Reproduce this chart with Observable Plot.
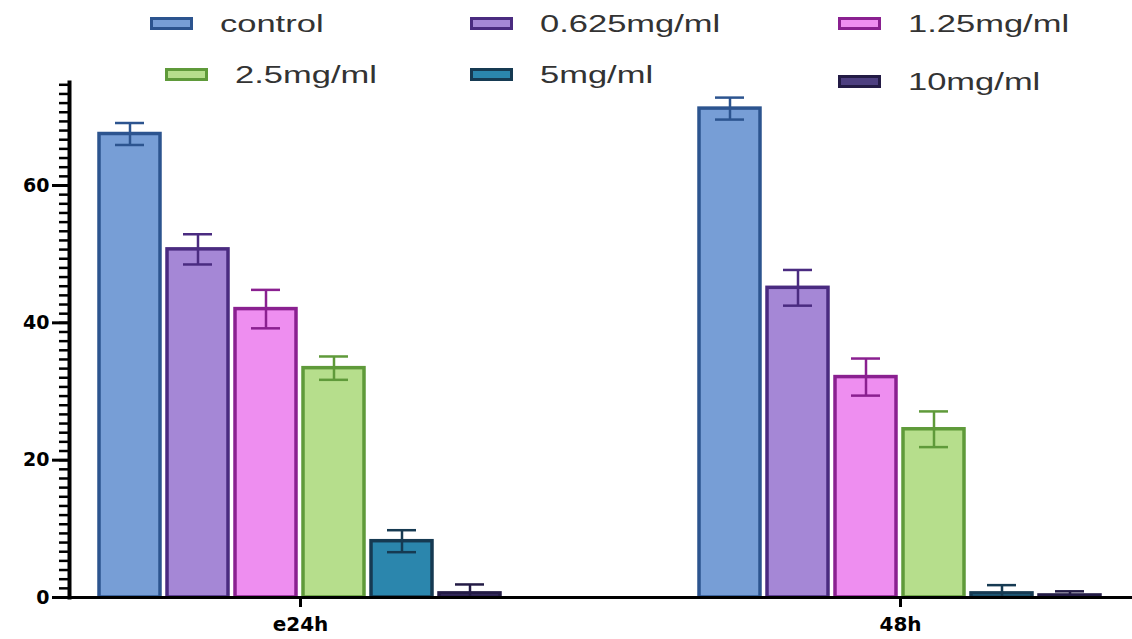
<!DOCTYPE html>
<html><head><meta charset="utf-8">
<script src="https://cdn.jsdelivr.net/npm/d3@7"></script>
<script src="https://cdn.jsdelivr.net/npm/@observablehq/plot@0.6"></script>
<style>
html,body{margin:0;padding:0;background:#fff;}
#wrap{position:relative;width:1132px;height:639px;overflow:hidden;}
#legend{position:absolute;left:0;top:0;width:1132px;height:100px;z-index:2;pointer-events:none;}
.item{position:absolute;display:flex;align-items:center;height:26px;}
.sw{width:37px;height:7px;border:3px solid;}
.lb{font-family:"Liberation Sans",Arial,sans-serif;font-size:23px;color:#333;margin-left:27px;transform:scaleX(1.5);transform-origin:left center;white-space:nowrap;position:relative;top:1px;}
#chart{position:absolute;left:0;top:0;}
</style></head><body>
<div id="wrap"><div id="chart"></div><div id="legend"></div></div>
<script>
const times = ["e24h", "48h"];
const groups = ["control", "0.625mg/ml", "1.25mg/ml", "2.5mg/ml", "5mg/ml", "10mg/ml"];
const means24 = [67.5, 50.7, 42.0, 33.4, 8.2, 0.6];
const sd24 = [1.6, 2.2, 2.8, 1.7, 1.6, 1.3];
const means48 = [71.2, 45.1, 32.1, 24.5, 0.6, 0.3];
const sd48 = [1.6, 2.6, 2.7, 2.6, 1.2, 0.6];
const fills = ["#779ed6", "#a587d6", "#ee8ef0", "#b6de8c", "#2b86ad", "#4d3f80"];
const strokes = ["#2c548f", "#4a2b80", "#8a2090", "#5f9a3a", "#163a52", "#231b45"];
const yTicks = [0, 20, 40, 60];

const fillOf = Object.fromEntries(groups.map((g, i) => [g, fills[i]]));
const strokeOf = Object.fromEntries(groups.map((g, i) => [g, strokes[i]]));
const means = [means24, means48], sds = [sd24, sd48];
const data = [];
times.forEach((t, ti) => groups.forEach((g, gi) => data.push({time: t, group: g, mean: means[ti][gi], sd: sds[ti][gi]})));
const minorTicks = d3.range(0, 75.01, 20 / 15);

const chart = Plot.plot({
  width: 1132, height: 639,
  marginLeft: 69, marginRight: 1, marginTop: 82, marginBottom: 42,
  style: {background: "transparent", color: "#000", fontFamily: "DejaVu Sans"},
  fx: {domain: times, paddingInner: 0.23, paddingOuter: 0, label: null},
  x: {domain: groups, paddingInner: 0.1, paddingOuter: 0.398, axis: null},
  y: {domain: [0, 75]},
  marks: [
    Plot.barY(data, {fx: "time", x: "group", y: "mean", fill: d => fillOf[d.group], stroke: d => strokeOf[d.group], strokeWidth: 3.5}),
    Plot.ruleX(data, {fx: "time", x: "group", y1: d => Math.max(0, d.mean - d.sd), y2: d => d.mean + d.sd, stroke: d => strokeOf[d.group], strokeWidth: 2.5}),
    Plot.tickY(data, {fx: "time", x: "group", y: d => d.mean + d.sd, stroke: d => strokeOf[d.group], strokeWidth: 2.5, insetLeft: 16, insetRight: 16}),
    Plot.tickY(data.filter(d => d.mean - d.sd > 0.5), {fx: "time", x: "group", y: d => d.mean - d.sd, stroke: d => strokeOf[d.group], strokeWidth: 2.5, insetLeft: 16, insetRight: 16}),
    Plot.axisY({ticks: minorTicks, tickSize: 10, strokeWidth: 2.5, tickFormat: () => "", label: null}),
    Plot.axisY({ticks: yTicks, tickSize: 17, strokeWidth: 3, tickPadding: 3, fontSize: 19, fontWeight: "bold", label: null, style: {letterSpacing: "1px"}}),
    Plot.axisFx({anchor: "bottom", tickSize: 10, strokeWidth: 3, tickPadding: 9, fontSize: 20, fontWeight: "bold", label: null, style: {letterSpacing: "2px"}}),
    Plot.frame({anchor: "left", facet: "super", strokeWidth: 4}),
    Plot.frame({anchor: "bottom", facet: "super", strokeWidth: 3})
  ]
});
document.getElementById("chart").appendChild(chart);

const legendPos = [[150, 10], [470, 10], [838, 10], [165, 61], [470, 61], [838, 68]];
const legend = document.getElementById("legend");
groups.forEach((g, i) => {
  const item = document.createElement("div");
  item.className = "item";
  item.style.left = legendPos[i][0] + "px";
  item.style.top = legendPos[i][1] + "px";
  const sw = document.createElement("div");
  sw.className = "sw";
  sw.style.background = fills[i];
  sw.style.borderColor = strokes[i];
  const lb = document.createElement("span");
  lb.className = "lb";
  lb.textContent = g;
  item.appendChild(sw); item.appendChild(lb);
  legend.appendChild(item);
});
</script>
</body></html>
